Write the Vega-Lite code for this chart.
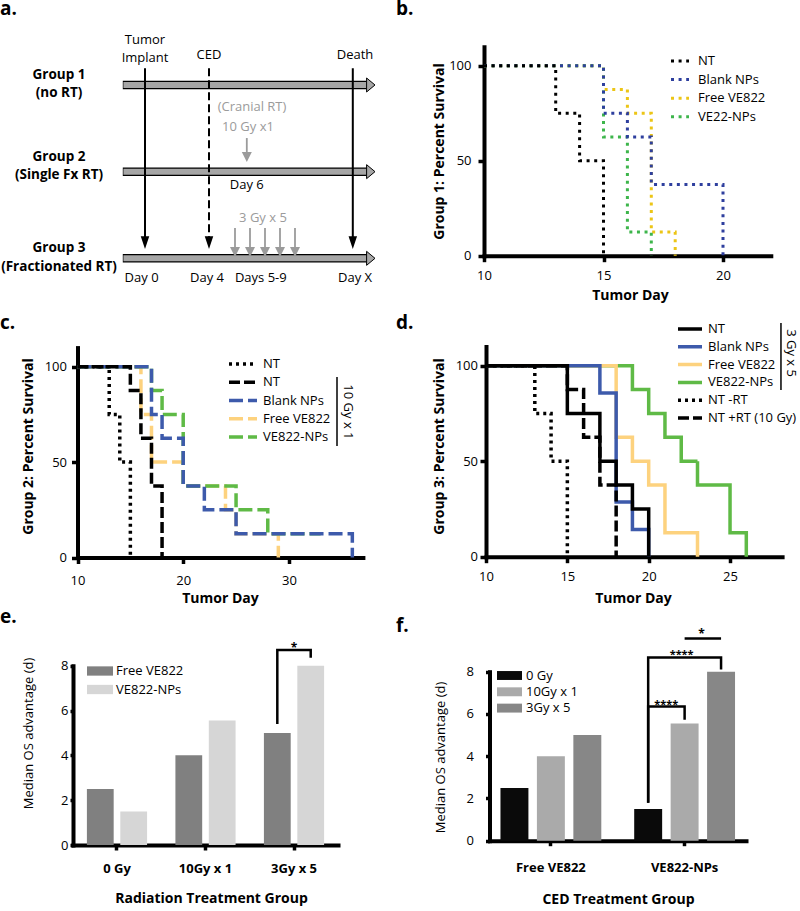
{
"$schema":"https://vega.github.io/schema/vega-lite/v6.json",
"background":"white",
"padding":0,
"columns":2,
"spacing":0,
"bounds":"flush",
"align":"each",
"resolve":{"scale":{"color":"independent","strokeDash":"independent","xOffset":"independent","x":"independent","y":"independent"},"legend":{"color":"independent","strokeDash":"independent"}},
"config":{
 "view":{"stroke":null},
 "font":"Open Sans",
 "axis":{"domainColor":"black","domainWidth":4,"domainCap":"square","tickColor":"black","tickWidth":3.5,"tickCap":"butt","labelFont":"Open Sans","labelFontSize":13,"labelColor":"black","titleFont":"Open Sans","titleFontSize":14,"titleFontWeight":"bold","titleColor":"black","grid":false,"labelFlush":false,"labelOverlap":false},
 "legend":{"labelFont":"Open Sans","labelFontSize":13,"labelColor":"black","padding":0,"symbolOpacity":1},
 "title":{"font":"Open Sans","fontSize":19,"fontWeight":"bold","color":"black","anchor":"start","frame":"group","baseline":"alphabetic"},
 "text":{"font":"Open Sans","color":"black"}
},
"datasets":{
 "tracks":[{"group":"Group 1","track":1},{"group":"Group 2","track":2},{"group":"Group 3","track":3}],
 "events":[{"event":"Tumor Implant","pos":36.25,"style":"solid"},{"event":"CED","pos":52.25,"style":"dashed"},{"event":"Death","pos":88.2,"style":"solid"}],
 "doses":[{"group":"Group 2","pos":61.7},{"group":"Group 3","pos":58.75},{"group":"Group 3","pos":62.5},{"group":"Group 3","pos":66.25},{"group":"Group 3","pos":70},{"group":"Group 3","pos":73.75}],
 "a_bold":[{"text":"Group 1","x":14.75,"y":0.885},{"text":"(no RT)","x":14.75,"y":1.092},{"text":"Group 2","x":14.75,"y":1.831},{"text":"(Single Fx RT)","x":14.75,"y":2.038},{"text":"Group 3","x":14.75,"y":2.881},{"text":"(Fractionated RT)","x":14.75,"y":3.1}],
 "a_black":[{"text":"Tumor","x":36.25,"y":0.481},{"text":"Implant","x":36.25,"y":0.688},{"text":"CED","x":52.25,"y":0.654},{"text":"Death","x":88.75,"y":0.654},{"text":"Day 6","x":61.7,"y":2.154},{"text":"Day 0","x":35.4,"y":3.227},{"text":"Day 4","x":51.75,"y":3.227},{"text":"Days 5-9","x":65.2,"y":3.227},{"text":"Day X","x":88.75,"y":3.227}],
 "a_gray":[{"text":"(Cranial RT)","x":63,"y":1.254},{"text":"10 Gy x1","x":62,"y":1.485},{"text":"3 Gy x 5","x":65.75,"y":2.535}],
 "surv_b":[
  {"series":"Free VE822","day":10,"surv":100},{"series":"Free VE822","day":15,"surv":87.5},{"series":"Free VE822","day":16,"surv":75},{"series":"Free VE822","day":17,"surv":12.5},{"series":"Free VE822","day":18,"surv":0},
  {"series":"VE22-NPs","day":10,"surv":100},{"series":"VE22-NPs","day":15,"surv":62.5},{"series":"VE22-NPs","day":16,"surv":12.5},{"series":"VE22-NPs","day":17,"surv":0},
  {"series":"Blank NPs","day":10,"surv":100},{"series":"Blank NPs","day":15,"surv":75},{"series":"Blank NPs","day":16,"surv":62.5},{"series":"Blank NPs","day":17,"surv":37.5},{"series":"Blank NPs","day":20,"surv":0},
  {"series":"NT","day":10,"surv":100},{"series":"NT","day":13,"surv":75},{"series":"NT","day":14,"surv":50},{"series":"NT","day":15,"surv":0}],
 "surv_c":[
  {"series":"Free VE822","day":10,"surv":100},{"series":"Free VE822","day":16,"surv":75},{"series":"Free VE822","day":17,"surv":50},{"series":"Free VE822","day":20,"surv":37.5},{"series":"Free VE822","day":24,"surv":25},{"series":"Free VE822","day":25,"surv":12.5},{"series":"Free VE822","day":29,"surv":0},
  {"series":"VE822-NPs","day":10,"surv":100},{"series":"VE822-NPs","day":17,"surv":87.5},{"series":"VE822-NPs","day":18,"surv":75},{"series":"VE822-NPs","day":20,"surv":37.5},{"series":"VE822-NPs","day":25,"surv":25},{"series":"VE822-NPs","day":28,"surv":12.5},{"series":"VE822-NPs","day":33,"surv":12.5},
  {"series":"Blank NPs","day":10,"surv":100},{"series":"Blank NPs","day":17,"surv":75},{"series":"Blank NPs","day":18,"surv":62.5},{"series":"Blank NPs","day":20,"surv":37.5},{"series":"Blank NPs","day":22,"surv":25},{"series":"Blank NPs","day":25,"surv":12.5},{"series":"Blank NPs","day":36,"surv":0},
  {"series":"NT|10Gy","day":10,"surv":100},{"series":"NT|10Gy","day":15,"surv":87.5},{"series":"NT|10Gy","day":16,"surv":62.5},{"series":"NT|10Gy","day":17,"surv":37.5},{"series":"NT|10Gy","day":18,"surv":0},
  {"series":"NT|noRT","day":10,"surv":100},{"series":"NT|noRT","day":13,"surv":75},{"series":"NT|noRT","day":14,"surv":50},{"series":"NT|noRT","day":15,"surv":0}],
 "surv_d":[
  {"series":"VE822-NPs","day":10,"surv":100},{"series":"VE822-NPs","day":19,"surv":87.5},{"series":"VE822-NPs","day":20,"surv":75},{"series":"VE822-NPs","day":21,"surv":62.5},{"series":"VE822-NPs","day":22,"surv":50},{"series":"VE822-NPs","day":23,"surv":37.5},{"series":"VE822-NPs","day":25,"surv":12.5},{"series":"VE822-NPs","day":26,"surv":0},
  {"series":"Free VE822","day":10,"surv":100},{"series":"Free VE822","day":18,"surv":62.5},{"series":"Free VE822","day":19,"surv":50},{"series":"Free VE822","day":20,"surv":37.5},{"series":"Free VE822","day":21,"surv":12.5},{"series":"Free VE822","day":23,"surv":0},
  {"series":"Blank NPs","day":10,"surv":100},{"series":"Blank NPs","day":17,"surv":85.7},{"series":"Blank NPs","day":18,"surv":28.6},{"series":"Blank NPs","day":19,"surv":14.3},{"series":"Blank NPs","day":20,"surv":0},
  {"series":"NT","day":10,"surv":100},{"series":"NT","day":15,"surv":75},{"series":"NT","day":17,"surv":50},{"series":"NT","day":18,"surv":37.5},{"series":"NT","day":19,"surv":25},{"series":"NT","day":20,"surv":0},
  {"series":"NT -RT","day":10,"surv":100},{"series":"NT -RT","day":13,"surv":75},{"series":"NT -RT","day":14,"surv":50},{"series":"NT -RT","day":15,"surv":0},
  {"series":"NT +RT (10 Gy)","day":10,"surv":100},{"series":"NT +RT (10 Gy)","day":15,"surv":87.5},{"series":"NT +RT (10 Gy)","day":16,"surv":62.5},{"series":"NT +RT (10 Gy)","day":17,"surv":37.5},{"series":"NT +RT (10 Gy)","day":18,"surv":0}],
 "os":[{"ced":"Free VE822","radiation":"0 Gy","adv":2.5},{"ced":"Free VE822","radiation":"10Gy x 1","adv":4},{"ced":"Free VE822","radiation":"3Gy x 5","adv":5},{"ced":"VE822-NPs","radiation":"0 Gy","adv":1.5},{"ced":"VE822-NPs","radiation":"10Gy x 1","adv":5.55},{"ced":"VE822-NPs","radiation":"3Gy x 5","adv":8}],
 "sig_e":[{"radiation":"3Gy x 5","ced":"Free VE822","y":5.4,"k":1},{"radiation":"3Gy x 5","ced":"Free VE822","y":8.7,"k":2},{"radiation":"3Gy x 5","ced":"VE822-NPs","y":8.7,"k":3},{"radiation":"3Gy x 5","ced":"VE822-NPs","y":8.35,"k":4}],
 "sig_f":[
  {"id":"a","ced":"VE822-NPs","radiation":"0 Gy","y":1.8,"k":1},{"id":"a","ced":"VE822-NPs","radiation":"0 Gy","y":6.35,"k":2},{"id":"a","ced":"VE822-NPs","radiation":"10Gy x 1","y":6.35,"k":3},{"id":"a","ced":"VE822-NPs","radiation":"10Gy x 1","y":5.73,"k":4},
  {"id":"b","ced":"VE822-NPs","radiation":"0 Gy","y":1.8,"k":1},{"id":"b","ced":"VE822-NPs","radiation":"0 Gy","y":8.67,"k":2},{"id":"b","ced":"VE822-NPs","radiation":"3Gy x 5","y":8.67,"k":3},{"id":"b","ced":"VE822-NPs","radiation":"3Gy x 5","y":8.1,"k":4},
  {"id":"c","ced":"VE822-NPs","radiation":"10Gy x 1","y":9.57,"k":1},{"id":"c","ced":"VE822-NPs","radiation":"3Gy x 5","y":9.57,"k":2}]
},
"concat":[
{
 "width":400,"height":300,
 "title":{"text":"a.","offset":-19},
 "layer":[
  {"data":{"name":"tracks"},"mark":{"type":"rule","color":"black","strokeWidth":8.5,"strokeCap":"butt"},
   "encoding":{"x":{"datum":30.7,"type":"quantitative","scale":{"domain":[0,100],"nice":false,"zero":false},"axis":null},"x2":{"datum":91.7},"y":{"field":"track","type":"quantitative","scale":{"domain":[0,3.5],"range":[-1.67,301.67],"nice":false,"zero":false},"axis":null}}},
  {"data":{"name":"tracks"},"mark":{"type":"rule","color":"#a6a6a6","strokeWidth":6,"strokeCap":"butt"},
   "encoding":{"x":{"datum":30.85,"type":"quantitative","scale":{"domain":[0,100],"nice":false,"zero":false},"axis":null},"x2":{"datum":91.8},"y":{"field":"track","type":"quantitative","scale":{"domain":[0,3.5],"range":[-1.67,301.67],"nice":false,"zero":false},"axis":null}}},
  {"data":{"name":"tracks"},"mark":{"type":"point","shape":"M-0.6,-1L0.6,0L-0.6,1Z","size":196,"filled":true,"fill":"#a6a6a6","stroke":"black","strokeWidth":1,"opacity":1},
   "encoding":{"x":{"datum":92.7,"type":"quantitative","scale":{"domain":[0,100],"nice":false,"zero":false},"axis":null},"y":{"field":"track","type":"quantitative","scale":{"domain":[0,3.5],"range":[-1.67,301.67],"nice":false,"zero":false},"axis":null}}},
  {"data":{"name":"events"},"mark":{"type":"rule","color":"black","strokeWidth":2},
   "encoding":{"x":{"field":"pos","type":"quantitative","scale":{"domain":[0,100],"nice":false,"zero":false},"axis":null},"y":{"datum":0.807,"type":"quantitative","scale":{"domain":[0,3.5],"range":[-1.67,301.67],"nice":false,"zero":false},"axis":null},"y2":{"datum":2.82},"strokeDash":{"field":"style","type":"nominal","scale":{"domain":["solid","dashed"],"range":[[1,0],[8,4]]},"legend":null}}},
  {"data":{"name":"events"},"mark":{"type":"point","shape":"M-0.67,-1L0.67,-1L0,1Z","size":161,"filled":true,"color":"black","opacity":1},
   "encoding":{"x":{"field":"pos","type":"quantitative","scale":{"domain":[0,100],"nice":false,"zero":false},"axis":null},"y":{"datum":2.819,"type":"quantitative","scale":{"domain":[0,3.5],"range":[-1.67,301.67],"nice":false,"zero":false},"axis":null}}},
  {"data":{"name":"doses"},"transform":[{"filter":"datum.group == 'Group 2'"}],"mark":{"type":"rule","color":"#9b9b9b","strokeWidth":1.8},
   "encoding":{"x":{"field":"pos","type":"quantitative","scale":{"domain":[0,100],"nice":false,"zero":false},"axis":null},"y":{"datum":1.612,"type":"quantitative","scale":{"domain":[0,3.5],"range":[-1.67,301.67],"nice":false,"zero":false},"axis":null},"y2":{"datum":1.83}}},
  {"data":{"name":"doses"},"transform":[{"filter":"datum.group == 'Group 3'"}],"mark":{"type":"rule","color":"#9b9b9b","strokeWidth":1.8},
   "encoding":{"x":{"field":"pos","type":"quantitative","scale":{"domain":[0,100],"nice":false,"zero":false},"axis":null},"y":{"datum":2.65,"type":"quantitative","scale":{"domain":[0,3.5],"range":[-1.67,301.67],"nice":false,"zero":false},"axis":null},"y2":{"datum":2.925}}},
  {"data":{"name":"doses"},"transform":[{"filter":"datum.group == 'Group 2'"}],"mark":{"type":"point","shape":"M-1,-1L1,-1L0,1Z","size":100,"filled":true,"color":"#9b9b9b","opacity":1},
   "encoding":{"x":{"field":"pos","type":"quantitative","scale":{"domain":[0,100],"nice":false,"zero":false},"axis":null},"y":{"datum":1.831,"type":"quantitative","scale":{"domain":[0,3.5],"range":[-1.67,301.67],"nice":false,"zero":false},"axis":null}}},
  {"data":{"name":"doses"},"transform":[{"filter":"datum.group == 'Group 3'"}],"mark":{"type":"point","shape":"M-1,-1L1,-1L0,1Z","size":100,"filled":true,"color":"#9b9b9b","opacity":1},
   "encoding":{"x":{"field":"pos","type":"quantitative","scale":{"domain":[0,100],"nice":false,"zero":false},"axis":null},"y":{"datum":2.927,"type":"quantitative","scale":{"domain":[0,3.5],"range":[-1.67,301.67],"nice":false,"zero":false},"axis":null}}},
  {"data":{"name":"a_bold"},"mark":{"type":"text","fontSize":13.5,"fontWeight":"bold","align":"center","baseline":"middle"},
   "encoding":{"x":{"field":"x","type":"quantitative","scale":{"domain":[0,100],"nice":false,"zero":false},"axis":null},"y":{"field":"y","type":"quantitative","scale":{"domain":[0,3.5],"range":[-1.67,301.67],"nice":false,"zero":false},"axis":null},"text":{"field":"text"}}},
  {"data":{"name":"a_black"},"mark":{"type":"text","fontSize":13,"align":"center","baseline":"middle"},
   "encoding":{"x":{"field":"x","type":"quantitative","scale":{"domain":[0,100],"nice":false,"zero":false},"axis":null},"y":{"field":"y","type":"quantitative","scale":{"domain":[0,3.5],"range":[-1.67,301.67],"nice":false,"zero":false},"axis":null},"text":{"field":"text"}}},
  {"data":{"name":"a_gray"},"mark":{"type":"text","fontSize":13,"align":"center","baseline":"middle","color":"#9b9b9b"},
   "encoding":{"x":{"field":"x","type":"quantitative","scale":{"domain":[0,100],"nice":false,"zero":false},"axis":null},"y":{"field":"y","type":"quantitative","scale":{"domain":[0,3.5],"range":[-1.67,301.67],"nice":false,"zero":false},"axis":null},"text":{"field":"text"}}}
 ]
},
{
 "width":400,"height":300,
 "title":{"text":"b.","offset":-19,"dx":-4},
 "data":{"name":"surv_b"},
 "mark":{"type":"line","interpolate":"step-after","strokeWidth":3,"strokeCap":"butt"},
 "encoding":{
  "x":{"field":"day","type":"quantitative","scale":{"domain":[10,22],"range":[84,370.8],"nice":false,"zero":false},"axis":{"values":[10,15,20],"offset":-44.3,"tickSize":6,"labelPadding":14,"labelBaseline":"middle","title":"Tumor Day","titleX":230,"titleY":40,"titleAlign":"center","titleBaseline":"middle"}},
  "y":{"field":"surv","type":"quantitative","scale":{"domain":[0,110],"range":[255.7,46.7],"nice":false,"zero":false},"axis":{"values":[0,50,100],"offset":-84,"tickSize":6,"labelPadding":7,"title":"Group 1: Percent Survival","titleX":-45,"titleY":151,"titleAngle":270,"titleAlign":"center","titleBaseline":"middle"}},
  "color":{"field":"series","type":"nominal","scale":{"domain":["NT","Blank NPs","Free VE822","VE22-NPs"],"range":["#000000","#2e3f9e","#ecc516","#3db54b"]},"legend":{"orient":"none","legendX":273.5,"legendY":54.5,"title":null,"symbolType":"M-4,0H4","symbolSize":20.25,"symbolStrokeWidth":3,"labelOffset":11.5,"rowPadding":4.6}},
  "strokeDash":{"field":"series","type":"nominal","scale":{"domain":["NT","Blank NPs","Free VE822","VE22-NPs"],"range":[[3,4.6],[3,4.6],[3,4.6],[3,4.6]]},"legend":{"orient":"none","legendX":273.5,"legendY":54.5,"title":null,"symbolType":"M-4,0H4","symbolSize":20.25,"symbolStrokeWidth":3,"labelOffset":11.5,"rowPadding":4.6}}
 }
},
{
 "width":400,"height":300,
 "title":{"text":"c.","offset":-33},
 "layer":[
  {"data":{"name":"surv_c"},
   "mark":{"type":"line","interpolate":"step-after","strokeWidth":3.5,"strokeCap":"butt"},
   "encoding":{
    "x":{"field":"day","type":"quantitative","scale":{"domain":[10,37],"range":[77.5,362.9],"nice":false,"zero":false},"axis":{"values":[10,20,30],"offset":-42.5,"tickSize":6,"labelPadding":16.5,"labelBaseline":"middle","title":"Tumor Day","titleX":220,"titleY":40.5,"titleAlign":"center","titleBaseline":"middle"}},
    "y":{"field":"surv","type":"quantitative","scale":{"domain":[0,110],"range":[257.5,47.6],"nice":false,"zero":false},"axis":{"values":[0,50,100],"offset":-77.5,"tickSize":6,"labelPadding":5,"title":"Group 2: Percent Survival","titleX":-49.5,"titleY":146,"titleAngle":270,"titleAlign":"center","titleBaseline":"middle"}},
    "color":{"field":"series","type":"nominal","scale":{"domain":["NT|noRT","NT|10Gy","Blank NPs","Free VE822","VE822-NPs"],"range":["#000000","#000000","#3d5aab","#fdd27e","#5fba46"]},"legend":{"orient":"none","legendX":236.5,"legendY":57.5,"title":null,"symbolType":"M-4,0H4","symbolSize":49,"symbolStrokeWidth":3.5,"labelOffset":13.5,"rowPadding":3.25,"labelExpr":"split(datum.label, '|')[0]"}},
    "strokeDash":{"field":"series","type":"nominal","scale":{"domain":["NT|noRT","NT|10Gy","Blank NPs","Free VE822","VE822-NPs"],"range":[[3,4],[11,4],[14,5],[14,5],[14,5]]},"legend":{"orient":"none","legendX":236.5,"legendY":57.5,"title":null,"symbolType":"M-4,0H4","symbolSize":49,"symbolStrokeWidth":3.5,"labelOffset":13.5,"rowPadding":3.25,"labelExpr":"split(datum.label, '|')[0]"}}
   }},
  {"data":{"values":[{}]},"mark":{"type":"rule","color":"black","strokeWidth":1.5},
   "encoding":{"x":{"datum":34.55,"type":"quantitative"},"y":{"datum":94.6,"type":"quantitative"},"y2":{"datum":58.4}}},
  {"data":{"values":[{}]},"mark":{"type":"text","text":"10 Gy x 1","fontSize":13,"angle":90,"align":"center","baseline":"middle"},
   "encoding":{"x":{"datum":35.6,"type":"quantitative"},"y":{"datum":76.3,"type":"quantitative"}}}
 ]
},
{
 "width":400,"height":300,
 "title":{"text":"d.","offset":-33,"dx":-4},
 "layer":[
  {"data":{"name":"surv_d"},
   "mark":{"type":"line","interpolate":"step-after","strokeWidth":3.5,"strokeCap":"butt"},
   "encoding":{
    "x":{"field":"day","type":"quantitative","scale":{"domain":[10,28.2],"range":[86,382.1],"nice":false,"zero":false},"axis":{"values":[10,15,20,25],"offset":-43.3,"tickSize":6,"labelPadding":14,"labelBaseline":"middle","title":"Tumor Day","titleX":233,"titleY":41.3,"titleAlign":"center","titleBaseline":"middle"}},
    "y":{"field":"surv","type":"quantitative","scale":{"domain":[0,110],"range":[256.7,46.6],"nice":false,"zero":false},"axis":{"values":[0,50,100],"offset":-86,"tickSize":6,"labelPadding":2.5,"title":"Group 3: Percent Survival","titleX":-47,"titleY":146,"titleAngle":270,"titleAlign":"center","titleBaseline":"middle"}},
    "color":{"field":"series","type":"nominal","scale":{"domain":["NT","Blank NPs","Free VE822","VE822-NPs","NT -RT","NT +RT (10 Gy)"],"range":["#000000","#3d5aab","#fdd27e","#5fba46","#000000","#000000"]},"legend":{"orient":"none","legendX":283.5,"legendY":22.5,"title":null,"symbolType":"M-4,0H4","symbolSize":36,"symbolStrokeWidth":3.5,"labelOffset":11.5,"rowPadding":2.8}},
    "strokeDash":{"field":"series","type":"nominal","scale":{"domain":["NT","Blank NPs","Free VE822","VE822-NPs","NT -RT","NT +RT (10 Gy)"],"range":[[1,0],[1,0],[1,0],[1,0],[3,4],[11,4]]},"legend":{"orient":"none","legendX":283.5,"legendY":22.5,"title":null,"symbolType":"M-4,0H4","symbolSize":36,"symbolStrokeWidth":3.5,"labelOffset":11.5,"rowPadding":2.8}}
   }},
  {"data":{"values":[{}]},"mark":{"type":"rule","color":"black","strokeWidth":1.5},
   "encoding":{"x":{"datum":28.13,"type":"quantitative"},"y":{"datum":122.4,"type":"quantitative"},"y2":{"datum":87.3}}},
  {"data":{"values":[{}]},"mark":{"type":"text","text":"3 Gy x 5","fontSize":13,"angle":90,"align":"center","baseline":"middle"},
   "encoding":{"x":{"datum":28.75,"type":"quantitative"},"y":{"datum":106.6,"type":"quantitative"}}}
 ]
},
{
 "width":400,"height":311,
 "title":{"text":"e.","offset":-27},
 "layer":[
  {"data":{"name":"os"},"mark":{"type":"bar"},
   "encoding":{
    "x":{"field":"radiation","type":"nominal","sort":null,"scale":{"domain":["0 Gy","10Gy x 1","3Gy x 5"],"range":[73,338],"paddingInner":0.32,"paddingOuter":0.157},"axis":{"offset":-66,"tickSize":5,"labelPadding":18,"labelBaseline":"middle","labelFontWeight":"bold","labelAngle":0,"title":"Radiation Treatment Group","titleX":211,"titleY":53,"titleAlign":"center","titleBaseline":"middle"}},
    "xOffset":{"field":"ced","type":"nominal","sort":null,"scale":{"domain":["Free VE822","VE822-NPs"],"paddingInner":0.198,"paddingOuter":0}},
    "y":{"field":"adv","type":"quantitative","scale":{"domain":[0,8],"range":[245,65.7],"nice":false,"zero":true},"axis":{"values":[0,2,4,6,8],"offset":-73,"tickSize":3,"labelPadding":2,"title":"Median OS advantage (d)","titleFontWeight":"normal","titleFontSize":13,"titleX":-45,"titleY":133,"titleAngle":270,"titleAlign":"center","titleBaseline":"middle"}},
    "color":{"field":"ced","type":"nominal","scale":{"domain":["Free VE822","VE822-NPs"],"range":["#808080","#d6d6d6"]},"legend":{"orient":"none","legendX":93.5,"legendY":64.5,"title":null,"symbolType":"M-2.8,-1H2.8V1H-2.8Z","symbolSize":86.3,"symbolStrokeWidth":0,"labelOffset":9.5,"rowPadding":4.5}}
   }},
  {"data":{"name":"sig_e"},"mark":{"type":"line","color":"black","strokeWidth":2.5},
   "encoding":{
    "x":{"field":"radiation","type":"nominal","sort":null,"scale":{"domain":["0 Gy","10Gy x 1","3Gy x 5"],"range":[73,338],"paddingInner":0.32,"paddingOuter":0.157}},
    "xOffset":{"field":"ced","type":"nominal","sort":null,"scale":{"domain":["Free VE822","VE822-NPs"],"paddingInner":0.198,"paddingOuter":0}},
    "y":{"field":"y","type":"quantitative","scale":{"domain":[0,8],"range":[245,65.7],"nice":false,"zero":true}},
    "order":{"field":"k","type":"quantitative"}
   }},
  {"data":{"values":[{}]},"mark":{"type":"text","text":"*","fontSize":12,"fontWeight":"bold","align":"center","baseline":"alphabetic"},
   "encoding":{"x":{"datum":"3Gy x 5","type":"nominal"},"y":{"datum":8.63,"type":"quantitative"}}}
 ]
},
{
 "width":400,"height":311,
 "title":{"text":"f.","offset":-36,"dx":-4},
 "layer":[
  {"data":{"name":"os"},"mark":{"type":"bar"},
   "encoding":{
    "x":{"field":"ced","type":"nominal","sort":null,"scale":{"domain":["Free VE822","VE822-NPs"],"range":[89.5,346],"paddingInner":0.246,"paddingOuter":0.082},"axis":{"offset":-70.3,"tickSize":5,"labelPadding":22,"labelBaseline":"middle","labelFontWeight":"bold","labelAngle":0,"title":"CED Treatment Group","titleX":218,"titleY":59,"titleAlign":"center","titleBaseline":"middle"}},
    "xOffset":{"field":"radiation","type":"nominal","sort":null,"scale":{"domain":["0 Gy","10Gy x 1","3Gy x 5"],"paddingInner":0.233,"paddingOuter":0}},
    "y":{"field":"adv","type":"quantitative","scale":{"domain":[0,8],"range":[240.7,71.7],"nice":false,"zero":true},"axis":{"values":[0,2,4,6,8],"offset":-89.5,"tickSize":4,"labelPadding":12,"title":"Median OS advantage (d)","titleFontWeight":"normal","titleFontSize":13,"titleX":-49.5,"titleY":157,"titleAngle":270,"titleAlign":"center","titleBaseline":"middle"}},
    "color":{"field":"radiation","type":"nominal","scale":{"domain":["0 Gy","10Gy x 1","3Gy x 5"],"range":["#0a0a0a","#aaaaaa","#878787"]},"legend":{"orient":"none","legendX":103,"legendY":69,"title":null,"symbolType":"M-2.8,-1H2.8V1H-2.8Z","symbolSize":79.7,"symbolStrokeWidth":0,"labelOffset":10,"rowPadding":2.3}}
   }},
  {"data":{"name":"sig_f"},"mark":{"type":"line","color":"black","strokeWidth":2.5},
   "encoding":{
    "x":{"field":"ced","type":"nominal","sort":null,"scale":{"domain":["Free VE822","VE822-NPs"],"range":[89.5,346],"paddingInner":0.246,"paddingOuter":0.082}},
    "xOffset":{"field":"radiation","type":"nominal","sort":null,"scale":{"domain":["0 Gy","10Gy x 1","3Gy x 5"],"paddingInner":0.233,"paddingOuter":0}},
    "y":{"field":"y","type":"quantitative","scale":{"domain":[0,8],"range":[240.7,71.7],"nice":false,"zero":true}},
    "detail":{"field":"id","type":"nominal"},
    "order":{"field":"k","type":"quantitative"}
   }},
  {"data":{"values":[{}]},"mark":{"type":"text","text":"****","fontSize":11,"fontWeight":"bold","align":"center","baseline":"alphabetic","dx":18},
   "encoding":{"x":{"datum":"VE822-NPs","type":"nominal"},"xOffset":{"datum":"0 Gy","type":"nominal"},"y":{"datum":6.29,"type":"quantitative"}}},
  {"data":{"values":[{}]},"mark":{"type":"text","text":"****","fontSize":11,"fontWeight":"bold","align":"center","baseline":"alphabetic","dx":-3},
   "encoding":{"x":{"datum":"VE822-NPs","type":"nominal"},"xOffset":{"datum":"10Gy x 1","type":"nominal"},"y":{"datum":8.66,"type":"quantitative"}}},
  {"data":{"values":[{}]},"mark":{"type":"text","text":"*","fontSize":12,"fontWeight":"bold","align":"center","baseline":"alphabetic","dx":17},
   "encoding":{"x":{"datum":"VE822-NPs","type":"nominal"},"xOffset":{"datum":"10Gy x 1","type":"nominal"},"y":{"datum":9.6,"type":"quantitative"}}}
 ]
}
]
}
